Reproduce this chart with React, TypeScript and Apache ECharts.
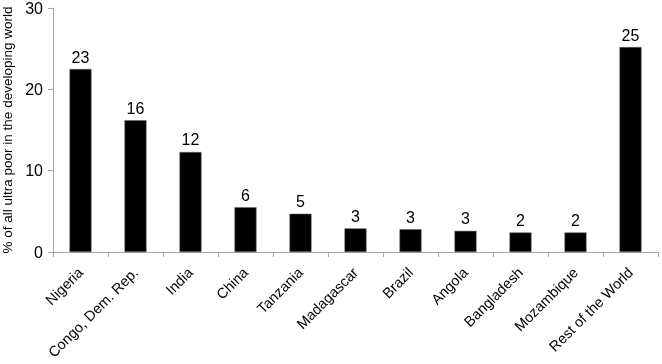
import React, { useEffect, useRef } from "react";
import * as echarts from "echarts";

const categories = [
  "Nigeria",
  "Congo, Dem. Rep.",
  "India",
  "China",
  "Tanzania",
  "Madagascar",
  "Brazil",
  "Angola",
  "Bangladesh",
  "Mozambique",
  "Rest of the World",
];
const values = [22.5, 16.2, 12.3, 5.5, 4.7, 2.9, 2.8, 2.6, 2.4, 2.4, 25.2];
const valueLabels = ["23", "16", "12", "6", "5", "3", "3", "3", "2", "2", "25"];
const yTicks = [0, 10, 20, 30];
const yAxisTitle = "% of all ultra poor in the developing world";

export default function App() {
  const ref = useRef<HTMLDivElement>(null);
  useEffect(() => {
    if (!ref.current) return;
    const chart = echarts.init(ref.current, undefined, { renderer: "svg" });
    chart.setOption({
      animation: false,
      grid: {
        left: 53,
        right: 4,
        top: 8,
        bottom: 112,
        containLabel: false,
        outerBoundsMode: "none",
      },
      xAxis: {
        type: "category",
        data: categories,
        axisLine: { lineStyle: { color: "#a6a6a6", width: 1 } },
        axisTick: { show: true, alignWithLabel: false, length: 5, lineStyle: { color: "#a6a6a6" } },
        axisLabel: {
          rotate: 45,
          interval: 0,
          color: "#000",
          fontFamily: "Liberation Sans",
          fontSize: 14.5,
          margin: 18,
        },
      },
      yAxis: {
        type: "value",
        min: yTicks[0],
        max: yTicks[yTicks.length - 1],
        interval: 10,
        name: yAxisTitle,
        nameLocation: "middle",
        nameGap: 34,
        nameTextStyle: { color: "#000", fontFamily: "Liberation Sans", fontSize: 13.5 },
        axisLine: { show: true, lineStyle: { color: "#a6a6a6", width: 1 } },
        axisTick: { show: true, length: 5, lineStyle: { color: "#a6a6a6" } },
        axisLabel: { color: "#000", fontFamily: "Liberation Sans", fontSize: 16, margin: 10 },
        splitLine: { show: false },
      },
      series: [
        {
          type: "bar",
          data: values,
          barWidth: "40%",
          itemStyle: { color: "#000", borderColor: "#666", borderWidth: 0.5 },
          label: {
            show: true,
            position: "top",
            distance: 4,
            color: "#000",
            fontFamily: "Liberation Sans",
            fontSize: 16,
            formatter: (p: any) => valueLabels[p.dataIndex],
          },
        },
      ],
    });
    return () => chart.dispose();
  }, []);
  return (
    <div
      ref={ref}
      style={{ position: "fixed", left: 0, top: 0, width: 662, height: 364 }}
    />
  );
}
